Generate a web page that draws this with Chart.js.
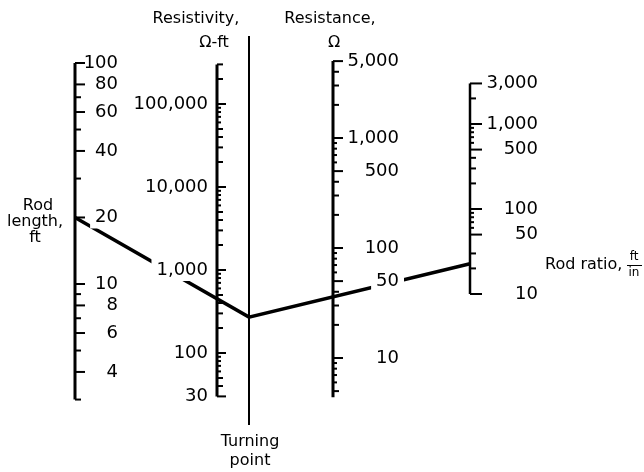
<!DOCTYPE html>
<html>
<head>
<meta charset="utf-8">
<script src="https://cdn.jsdelivr.net/npm/chart.js@4.4.1/dist/chart.umd.min.js"></script>
<style>
  html, body { margin: 0; padding: 0; background: #fff; }
  canvas { display: block; }
</style>
</head>
<body>
<canvas id="nomo" width="644" height="472"></canvas>
<script>
// rod length, ft
const lengthLabels = [100, 80, 60, 40, 20, 10, 8, 6, 4];
const lengthMinor = [70, 50, 30, 9, 7, 5, 3];
const lengthRange = [3, 100];

// resistivity, ohm-ft
const rhoLabels = [100000, 10000, 1000, 100, 30];
const rhoMinor = [300000, 200000, 50000, 40000, 30000, 20000, 5000, 4000, 3000, 2000, 500, 400, 300, 200, 50, 40];
const rhoSmall = [90000, 80000, 70000, 60000, 9000, 8000, 7000, 6000, 900, 800, 700, 600, 90, 80, 70, 60];
const rhoRange = [30, 300000];

// resistance, ohm
const resLabels = [5000, 1000, 500, 100, 50, 10];
const resMinor = [4000, 3000, 2000, 400, 300, 200, 40, 30, 20, 5];
const resSmall = [900, 800, 700, 600, 90, 80, 70, 60, 9, 8, 7, 6];
const resRange = [4.4, 5000];

// rod ratio, ft/in
const ratioLabels = [3000, 1000, 500, 100, 50, 10];
const ratioMinor = [2000, 400, 300, 200, 30, 20];
const ratioSmall = [900, 800, 700, 600, 90, 80, 70, 60];
const ratioRange = [10, 3000];

// worked example: length -> resistivity -> turning point -> resistance -> rod ratio
const exampleLength = 20;
const exampleRho = 450;
const exampleRes = 36;

// layout of the nomograph (x in px units of the hidden x scale)
const H = 472;
const layout = {
    length: { x: 75, anchor: 10, at: 284, decade: 221, labelX: 118 },
    rho: { x: 217, anchor: 1000, at: 270, decade: 83, labelX: 208 },
    turn: { x: 249, top: 36, bottom: 425 },
    res: { x: 333, anchor: 100, at: 248, decade: 110, labelX: 399 },
    ratio: { x: 470, anchor: 100, at: 209, decade: 85, labelX: 538 }
};

function logBounds(c) {
    const l = Math.log10(c.anchor);
    return {
        min: Math.pow(10, l - (H - c.at) / c.decade),
        max: Math.pow(10, l + c.at / c.decade)
    };
}

function axisLine(id, x, range, width) {
    return {
        yAxisID: id,
        data: range.map((v) => ({ x: x, y: v })),
        showLine: true,
        borderColor: '#000',
        borderWidth: width,
        pointRadius: 0
    };
}

function tickSet(id, x, values, len) {
    return {
        yAxisID: id,
        data: values.map((v) => ({ x: x + len / 2, y: v })),
        pointStyle: 'line',
        pointRadius: len / 2,
        pointBorderColor: '#000',
        pointBorderWidth: 2
    };
}

const FONT = '"DejaVu Sans", sans-serif';

function knockoutText(ctx, text, x, y, align) {
    ctx.textAlign = align;
    ctx.textBaseline = 'middle';
    const w = ctx.measureText(text).width;
    const left = align === 'right' ? x - w : (align === 'center' ? x - w / 2 : x);
    ctx.fillStyle = '#fff';
    ctx.fillRect(left - 5, y - 11, w + 10, 22);
    ctx.fillStyle = '#000';
    ctx.fillText(text, x, y);
}

const nomoPlugin = {
    id: 'nomo',
    beforeDatasetsDraw(chart) {
        const ctx = chart.ctx;
        const s = chart.scales;
        const px = (v) => s.x.getPixelForValue(v);

        // example line, turning point found by extension
        const a = { x: px(layout.length.x), y: s.yLen.getPixelForValue(exampleLength) };
        const b = { x: px(layout.rho.x), y: s.yRho.getPixelForValue(exampleRho) };
        const tx = px(layout.turn.x);
        const t = { x: tx, y: a.y + (b.y - a.y) * (tx - a.x) / (b.x - a.x) };
        const c = { x: px(layout.res.x), y: s.yRes.getPixelForValue(exampleRes) };
        const ex = px(layout.ratio.x);
        const e = { x: ex, y: t.y + (c.y - t.y) * (ex - t.x) / (c.x - t.x) };

        ctx.save();
        ctx.strokeStyle = '#000';
        ctx.lineWidth = 3.5;
        ctx.beginPath();
        ctx.moveTo(a.x, a.y);
        ctx.lineTo(t.x, t.y);
        ctx.lineTo(e.x, e.y);
        ctx.stroke();

        // tick labels
        ctx.font = '18px ' + FONT;
        const groups = [
            ['yLen', lengthLabels, layout.length.labelX],
            ['yRho', rhoLabels, layout.rho.labelX],
            ['yRes', resLabels, layout.res.labelX],
            ['yRatio', ratioLabels, layout.ratio.labelX]
        ];
        groups.forEach(([id, values, lx]) => {
            values.forEach((v) => {
                knockoutText(ctx, v.toLocaleString('en-US'), px(lx), s[id].getPixelForValue(v), 'right');
            });
        });

        // titles
        ctx.fillStyle = '#000';
        ctx.textBaseline = 'middle';
        ctx.textAlign = 'center';
        ctx.font = '16px ' + FONT;
        ctx.fillText('Resistivity,', px(196), 19);
        ctx.fillText('\u03A9-ft', px(214), 43);
        ctx.fillText('Resistance,', px(330), 19);
        ctx.fillText('\u03A9', px(334), 43);
        ctx.fillText('Rod', px(38), 206);
        ctx.fillText('length,', px(35), 222);
        ctx.fillText('ft', px(35), 238);
        ctx.fillText('Turning', px(250), 442);
        ctx.fillText('point', px(250), 461);
        ctx.textAlign = 'left';
        ctx.fillText('Rod ratio,', px(545), 265);
        ctx.font = '12px ' + FONT;
        ctx.textAlign = 'center';
        ctx.fillText('ft', px(634), 257);
        ctx.fillText('in', px(634), 273);
        ctx.lineWidth = 1;
        ctx.beginPath();
        ctx.moveTo(px(627), 265.5);
        ctx.lineTo(px(642), 265.5);
        ctx.stroke();
        ctx.restore();
    }
};

const datasets = [
    axisLine('yLen', layout.length.x, lengthRange, 3),
    tickSet('yLen', layout.length.x, lengthLabels, 10),
    tickSet('yLen', layout.length.x, lengthMinor, 6),

    axisLine('yRho', layout.rho.x, rhoRange, 3),
    tickSet('yRho', layout.rho.x, rhoLabels, 9),
    tickSet('yRho', layout.rho.x, rhoMinor, 6),
    tickSet('yRho', layout.rho.x, rhoSmall, 4),

    axisLine('yFrame', layout.turn.x, [layout.turn.top, layout.turn.bottom], 2),

    axisLine('yRes', layout.res.x, resRange, 3),
    tickSet('yRes', layout.res.x, resLabels, 10),
    tickSet('yRes', layout.res.x, resMinor, 6),
    tickSet('yRes', layout.res.x, resSmall, 4),

    axisLine('yRatio', layout.ratio.x, ratioRange, 2.5),
    tickSet('yRatio', layout.ratio.x, ratioLabels, 12),
    tickSet('yRatio', layout.ratio.x, ratioMinor, 6),
    tickSet('yRatio', layout.ratio.x, ratioSmall, 4)
];

new Chart(document.getElementById('nomo'), {
    type: 'scatter',
    data: { datasets: datasets },
    options: {
        responsive: false,
        animation: false,
        devicePixelRatio: 1,
        events: [],
        layout: { padding: 0, autoPadding: false },
        plugins: { legend: { display: false }, tooltip: { enabled: false } },
        scales: {
            x: { type: 'linear', min: 0, max: 644, display: false },
            yFrame: { axis: 'y', type: 'linear', min: 0, max: H, reverse: true, display: false },
            yLen: { axis: 'y', type: 'logarithmic', ...logBounds(layout.length), display: false },
            yRho: { axis: 'y', type: 'logarithmic', ...logBounds(layout.rho), display: false },
            yRes: { axis: 'y', type: 'logarithmic', ...logBounds(layout.res), display: false },
            yRatio: { axis: 'y', type: 'logarithmic', ...logBounds(layout.ratio), display: false }
        }
    },
    plugins: [nomoPlugin]
});
</script>
</body>
</html>
